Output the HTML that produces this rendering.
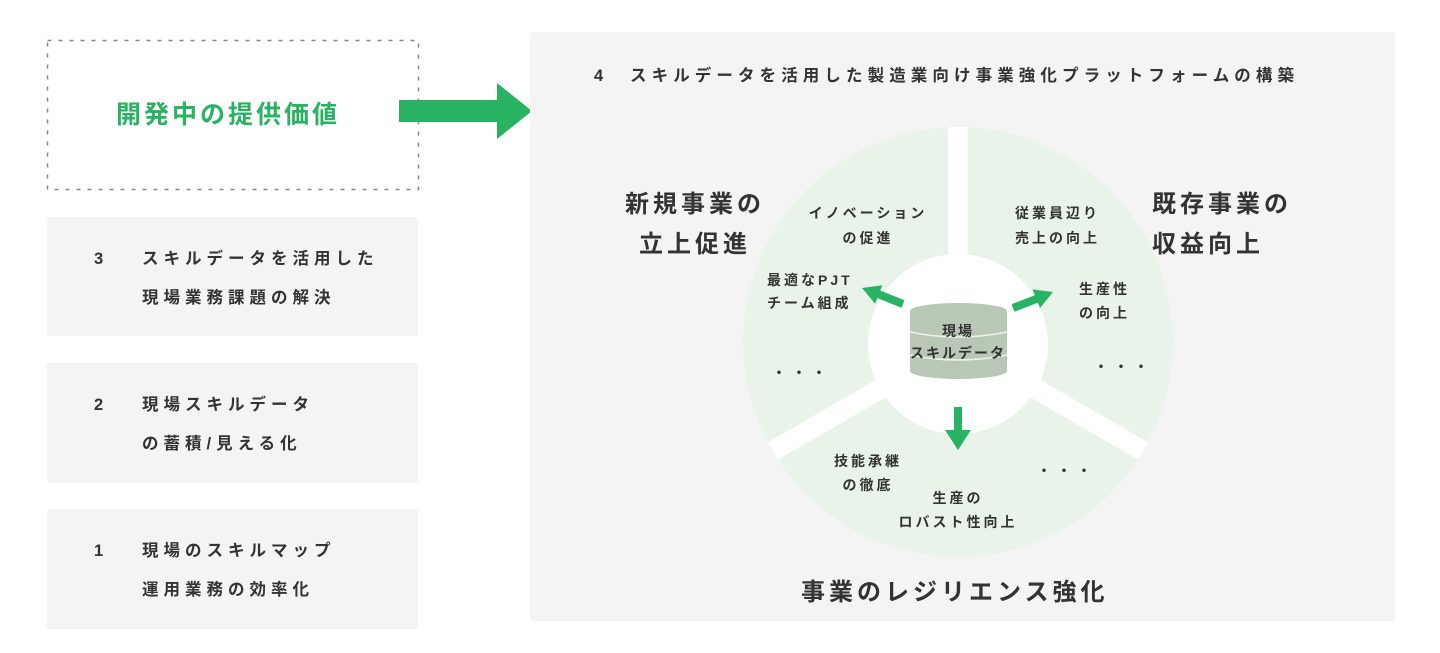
<!DOCTYPE html>
<html><head><meta charset="utf-8"><style>
body{margin:0;background:#fff;}
svg{display:block;font-family:"Liberation Sans","Noto Sans CJK JP",sans-serif;font-weight:bold;}
</style></head><body>
<svg width="1440" height="653" viewBox="0 0 1440 653">
<defs><clipPath id="c"><circle cx="958" cy="342" r="215"/></clipPath></defs>
<rect x="47.5" y="40.5" width="371" height="149" fill="none" stroke="#888" stroke-width="1.5" stroke-dasharray="4,7"/>
<text x="228" y="123" text-anchor="middle" font-size="25" letter-spacing="3" fill="#27b361">開発中の提供価値</text>
<polygon points="399,100 497,100 497,83 532,111 497,139 497,122 399,122" fill="#27b361"/>
<g fill="#f4f4f4">
<rect x="47" y="217" width="371" height="119" rx="3"/>
<rect x="47" y="363" width="371" height="120" rx="3"/>
<rect x="47" y="509" width="371" height="120" rx="3"/>
<rect x="530" y="32" width="865" height="589" rx="3"/>
</g>
<g font-size="16.5" fill="#333" letter-spacing="5">
<text x="94" y="264">3</text><text x="142" y="264">スキルデータを活用した</text><text x="142" y="303">現場業務課題の解決</text>
<text x="94" y="410">2</text><text x="142" y="410">現場スキルデータ</text><text x="142" y="449">の蓄積/見える化</text>
<text x="94" y="556">1</text><text x="142" y="556">現場のスキルマップ</text><text x="142" y="595">運用業務の効率化</text>
</g>
<g font-size="16.5" fill="#333" letter-spacing="5.1">
<text x="594" y="81">4</text><text x="630" y="81">スキルデータを活用した製造業向け事業強化プラットフォームの構築</text>
</g>
<circle cx="958" cy="342" r="215" fill="#eaf3ea"/>
<g stroke="#fff" stroke-width="20" clip-path="url(#c)">
<line x1="958" y1="100" x2="958" y2="344"/>
<line x1="958" y1="344" x2="740" y2="470"/>
<line x1="958" y1="344" x2="1176" y2="470"/>
</g>
<circle cx="958" cy="344" r="90" fill="#fff"/>
<g fill="#b9c8b6">
<rect x="910" y="311" width="97" height="60"/>
<ellipse cx="958.5" cy="311" rx="48.5" ry="8"/>
<ellipse cx="958.5" cy="371" rx="48.5" ry="8"/>
</g>
<path d="M910,332 Q958,342 1007,332 M910,355 Q958,365 1007,355" stroke="#eef2ec" stroke-width="1.5" fill="none"/>
<g font-size="14" fill="#333" letter-spacing="2">
<text x="958" y="336" text-anchor="middle">現場</text>
<text x="958" y="358" text-anchor="middle">スキルデータ</text>
</g>
<g stroke="#27b361" stroke-width="8">
<line x1="903" y1="304" x2="878" y2="294"/>
<line x1="1013" y1="308" x2="1039" y2="298"/>
<line x1="958" y1="407" x2="958" y2="432"/>
</g>
<g fill="#27b361">
<polygon points="862,288 882.3,285.2 875.1,303.8"/>
<polygon points="1053,292 1040,308 1032.6,289.4"/>
<polygon points="945,430 971,430 958,450"/>
</g>
<g font-size="14" fill="#333" letter-spacing="3">
<text x="868" y="218" text-anchor="middle">イノベーション</text>
<text x="868" y="243" text-anchor="middle">の促進</text>
<text x="1015" y="218">従業員辺り</text>
<text x="1015" y="243">売上の向上</text>
<text x="767" y="285">最適なPJT</text>
<text x="767" y="308">チーム組成</text>
<text x="1079" y="294">生産性</text>
<text x="1079" y="318">の向上</text>
<text x="868" y="466" text-anchor="middle">技能承継</text>
<text x="868" y="490" text-anchor="middle">の徹底</text>
<text x="958" y="503" text-anchor="middle">生産の</text>
<text x="958" y="527" text-anchor="middle">ロバスト性向上</text>
<text x="772" y="378" letter-spacing="6">・・・</text>
<text x="1094" y="372" letter-spacing="6">・・・</text>
<text x="1037" y="476" letter-spacing="6">・・・</text>
</g>
<g font-size="24" fill="#333" letter-spacing="4">
<text x="625" y="212">新規事業の</text>
<text x="639" y="252">立上促進</text>
<text x="1152" y="212">既存事業の</text>
<text x="1152" y="252">収益向上</text>
<text x="801" y="600">事業のレジリエンス強化</text>
</g>
</svg>
</body></html>
